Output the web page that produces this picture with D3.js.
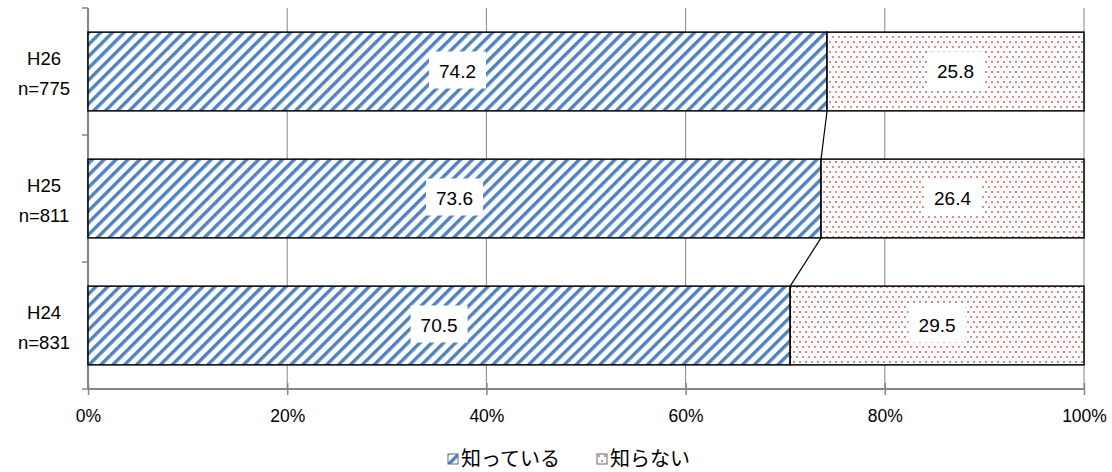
<!DOCTYPE html>
<html><head><meta charset="utf-8">
<script src="https://cdn.jsdelivr.net/npm/d3@7"></script>
<style>body{margin:0;background:#fff;} svg{display:block;font-family:"Liberation Sans",Arial,sans-serif;}</style>
</head><body><svg id="c" width="1112" height="472"></svg>
<script>
const categories = ["H26\nn=775", "H25\nn=811", "H24\nn=831"];
const seriesNames = ["知っている", "知らない"];
const knowValues = [74.2, 73.6, 70.5];
const dontKnowValues = [25.8, 26.4, 29.5];
const xTicks = [0, 20, 40, 60, 80, 100];

const svg = d3.select("#c");
const m = {l: 88, r: 28, t: 8, b: 83};
const W = 1112, H = 472;
const x = d3.scaleLinear().domain([0, 100]).range([m.l, W - m.r]);
const y = d3.scaleBand().domain(categories).range([m.t, H - m.b]).paddingInner(0.38).paddingOuter(0.19);

const defs = svg.append("defs");
const p1 = defs.append("pattern").attr("id", "stripe").attr("patternUnits", "userSpaceOnUse")
  .attr("width", 8.4).attr("height", 8.4).attr("patternTransform", "rotate(45)");
p1.append("rect").attr("width", 8.4).attr("height", 8.4).attr("fill", "#fff");
p1.append("rect").attr("x", 0).attr("width", 3.4).attr("height", 8.4).attr("fill", "#4f83c0");
const p2 = defs.append("pattern").attr("id", "dots").attr("patternUnits", "userSpaceOnUse")
  .attr("width", 6).attr("height", 10);
p2.append("rect").attr("width", 6).attr("height", 10).attr("fill", "#fff");
p2.append("rect").attr("x", 1).attr("y", 1).attr("width", 2).attr("height", 2).attr("fill", "#e08a8a");
p2.append("rect").attr("x", 4).attr("y", 6).attr("width", 2).attr("height", 2).attr("fill", "#e08a8a");

// gridlines
svg.append("g").selectAll("line").data(xTicks.slice(1)).join("line")
  .attr("x1", d => x(d)).attr("x2", d => x(d)).attr("y1", m.t).attr("y2", H - m.b)
  .attr("stroke", "#868686").attr("stroke-width", 1);

// x axis
const xa = svg.append("g").attr("transform", `translate(0,${H - m.b})`)
  .call(d3.axisBottom(x).tickValues(xTicks).tickFormat(d => d + "%").tickSize(6).tickSizeOuter(0));
xa.attr("font-size", null).attr("font-family", null);
xa.select(".domain").attr("stroke", "#868686").attr("stroke-width", 2).attr("d", `M${x(0)},0H${x(100)}`);
xa.selectAll(".tick line").attr("stroke", "#868686").attr("stroke-width", 1.5).attr("y1", -6).attr("y2", 6);
xa.selectAll(".tick text").style("font-size", "17.5px").attr("fill", "#000").attr("y", 33).attr("dy", null)
  .style("font-family", "Liberation Sans, Arial, sans-serif");

// y axis
const yg = svg.append("g");
yg.append("line").attr("x1", x(0)).attr("x2", x(0)).attr("y1", m.t).attr("y2", H - m.b)
  .attr("stroke", "#868686").attr("stroke-width", 2);
const yTickPos = d3.range(categories.length + 1).map(i => m.t + i * (H - m.t - m.b) / categories.length);
yg.selectAll(".yt").data(yTickPos).join("line").attr("class", "yt")
  .attr("x1", x(0) - 6).attr("x2", x(0)).attr("y1", d => d).attr("y2", d => d)
  .attr("stroke", "#868686").attr("stroke-width", 1.5);
categories.forEach(c => {
  const lines = c.split("\n");
  const t = yg.append("text").attr("text-anchor", "middle").style("font-size", "18.5px").attr("fill", "#000");
  lines.forEach((l, i) => t.append("tspan").attr("x", 44).attr("y", y(c) + y.bandwidth() / 2 + (i === 0 ? -6.5 : 23.5)).text(l));
});

// bars
const data = categories.map((c, i) => ({c, a: knowValues[i], b: dontKnowValues[i]}));
const bars = svg.append("g");
data.forEach(d => {
  bars.append("rect").attr("x", x(0)).attr("y", y(d.c)).attr("width", x(d.a) - x(0)).attr("height", y.bandwidth())
    .attr("fill", "url(#stripe)").attr("stroke", "#000").attr("stroke-width", 1.5);
  bars.append("rect").attr("x", x(d.a)).attr("y", y(d.c)).attr("width", x(d.a + d.b) - x(d.a)).attr("height", y.bandwidth())
    .attr("fill", "url(#dots)").attr("stroke", "#000").attr("stroke-width", 1.5);
});

// series lines
for (let i = 0; i < data.length - 1; i++) {
  svg.append("line").attr("x1", x(data[i].a)).attr("y1", y(data[i].c) + y.bandwidth())
    .attr("x2", x(data[i + 1].a)).attr("y2", y(data[i + 1].c)).attr("stroke", "#000").attr("stroke-width", 1.2);
}

// labels
const lab = svg.append("g");
data.forEach(d => {
  [[d.a, 0, d.a], [d.b, d.a, d.a + d.b]].forEach(([v, s, e]) => {
    const cx = (x(s) + x(e)) / 2, cy = y(d.c) + y.bandwidth() / 2;
    const txt = v.toFixed(1);
    lab.append("rect").attr("x", cx - 28.5).attr("y", cy - 20).attr("width", 57).attr("height", 37).attr("fill", "#fff");
    lab.append("text").attr("x", cx).attr("y", cy).attr("dy", "0.33em").attr("text-anchor", "middle")
      .style("font-size", "19px").attr("fill", "#000").text(txt);
  });
});

// legend
const lg = svg.append("g").attr("transform", "translate(0,459)");
const legendItems = [{name: seriesNames[0], fill: "url(#stripe)", x: 448}, {name: seriesNames[1], fill: "url(#dots)", x: 597}];
legendItems.forEach(it => {
  lg.append("rect").attr("x", it.x).attr("y", -5).attr("width", 10).attr("height", 10)
    .attr("fill", it.fill).attr("stroke", "#666").attr("stroke-width", 1);
  lg.append("text").attr("x", it.x + 13).attr("y", 0).attr("dy", "0.36em").style("font-size", "20px")
    .style("font-family", "Noto Sans CJK JP, sans-serif").attr("fill", "#000").text(it.name);
});
</script></body></html>
